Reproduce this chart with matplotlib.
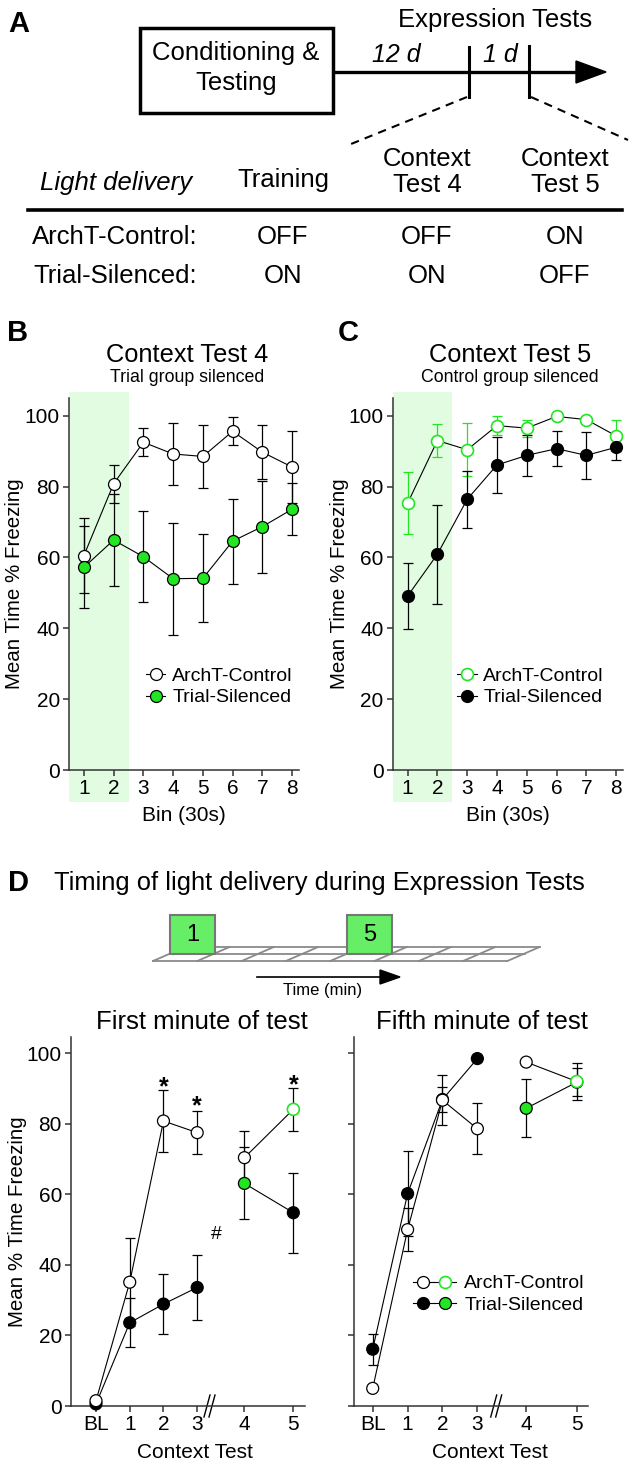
import numpy as np
import matplotlib
matplotlib.use('Agg')
import matplotlib.pyplot as plt
from matplotlib.lines import Line2D
from matplotlib.patches import Rectangle, Polygon
from matplotlib.legend_handler import HandlerTuple

plt.rcParams['font.family'] = ['Liberation Sans', 'DejaVu Sans']

W, H = 630, 1464
GREEN = '#22e622'
SHADE = '#e2fce2'
BOXGREEN = '#66ee66'
AXC = '#333333'

# ---- panel A table ----
groups = ['ArchT-Control:', 'Trial-Silenced:']
phases = ['Training', 'Context\nTest 4', 'Context\nTest 5']
light = [['OFF', 'OFF', 'ON'],
         ['ON', 'ON', 'OFF']]

# ---- panels B / C : 30 s bins ----
bins = [1, 2, 3, 4, 5, 6, 7, 8]
t4_ctrl = [60.5, 80.8, 92.5, 89.2, 88.5, 95.6, 89.7, 85.5]
t4_ctrl_err = [10.5, 5.3, 4.0, 8.7, 8.8, 3.9, 7.7, 10.1]
t4_sil = [57.2, 64.9, 60.2, 54.0, 54.1, 64.6, 68.7, 73.6]
t4_sil_err = [11.6, 12.9, 12.9, 15.8, 12.4, 12.0, 13.0, 7.4]

t5_ctrl = [75.3, 93.0, 90.4, 97.2, 96.5, 99.8, 98.9, 94.3]
t5_ctrl_err = [8.8, 4.6, 7.5, 2.7, 2.4, 0.6, 0.6, 4.4]
t5_sil = [49.1, 60.9, 76.4, 86.1, 88.8, 90.7, 88.8, 91.1]
t5_sil_err = [9.3, 14.0, 8.0, 8.0, 5.7, 5.0, 6.7, 3.5]

# ---- panel D ----
n_minutes = 8
lit_minutes = [1, 5]
tests = ['BL', '1', '2', '3', '4', '5']
test_pos = np.array([0, 1, 2, 3, 4.4, 5.85])

m1_ctrl = [1.5, 35.1, 80.8, 77.5, 70.4, 84.1]
m1_ctrl_err = [0, 12.4, 8.9, 6.1, 7.7, 6.1]
m1_sil = [0.6, 23.6, 28.9, 33.6, 63.1, 54.8]
m1_sil_err = [0, 7.0, 8.6, 9.1, 10.2, 11.3]
m1_stars = ['2', '3', '5']
m1_star_y = [92.4, 87.2, 93.2]

m5_ctrl = [5.0, 50.0, 86.7, 78.6, 97.5, 92.0]
m5_ctrl_err = [0, 6.0, 7.0, 7.2, 0, 5.2]
m5_sil = [16.1, 60.2, 86.9, 98.5, 84.4, 91.8]
m5_sil_err = [4.4, 12.0, 3.6, 0, 8.2, 4.0]

fig = plt.figure(figsize=(W / 100, H / 100), dpi=100)

# overlay in pixel coords for schematic parts
ov = fig.add_axes([0, 0, 1, 1])
ov.set_xlim(0, W)
ov.set_ylim(H, 0)
ov.axis('off')


def px_axes(l, t, r, b):
    return fig.add_axes([l / W, 1 - b / H, (r - l) / W, (b - t) / H])


def style(ax):
    for s in ['top', 'right']:
        ax.spines[s].set_visible(False)
    for s in ['left', 'bottom']:
        ax.spines[s].set_linewidth(1.1)
        ax.spines[s].set_color(AXC)
    ax.tick_params(length=4.5, width=1.1, color=AXC, labelsize=15, pad=2)
    ax.set_facecolor('none')


# ================= A =================
ov.text(19, 24, 'A', fontsize=21, fontweight='bold', ha='center', va='center')
ov.add_patch(Rectangle((140, 28), 193, 85, fill=False, lw=2.5, ec='k'))
ov.text(236, 53, 'Conditioning &', fontsize=18.5, ha='center', va='center')
ov.text(236, 83, 'Testing', fontsize=18.5, ha='center', va='center')
ov.plot([333, 580], [72, 72], color='k', lw=2.4, solid_capstyle='butt')
ov.add_patch(Polygon([(576, 61), (606, 72), (576, 83)], closed=True, color='k'))
ov.plot([469, 469], [47, 97], color='k', lw=2.2)
ov.plot([529, 529], [46, 97], color='k', lw=2.2)
ov.plot([467, 351], [97, 144], color='k', lw=1.5, ls=(0, (4, 3)))
ov.plot([531, 628], [97, 140], color='k', lw=1.5, ls=(0, (4, 3)))
ov.text(495, 20, 'Expression Tests', fontsize=18.5, ha='center', va='center')
ov.text(396, 55, '12 d', fontsize=18, style='italic', ha='center', va='center')
ov.text(500, 55, '1 d', fontsize=18, style='italic', ha='center', va='center')

col_x = [283, 427, 565]
row_y = [237, 276]
ov.text(116, 183, 'Light delivery', fontsize=18.5, style='italic', ha='center', va='center')
for x, name in zip(col_x, phases):
    ov.text(x, 180 if '\n' not in name else 172, name, fontsize=18.5, ha='center',
            va='center', linespacing=1.1)
ov.plot([28, 622], [210, 210], color='k', lw=2.6)
for y, g, states in zip(row_y, groups, light):
    ov.text(115, y, g, fontsize=18.5, ha='center', va='center')
    for x, st in zip(col_x, states):
        ov.text(x, y, st, fontsize=18.5, ha='center', va='center')

# ================= B / C =================
def bin_panel(ax, ctrl, ctrl_err, sil, sil_err, ctrl_col, sil_fill):
    style(ax)
    ax.axvspan(0.5, 2.5, ymin=-0.086, ymax=1.016, color=SHADE, lw=0,
               clip_on=False, zorder=0)
    ax.errorbar(bins, ctrl, yerr=ctrl_err, fmt='none', ecolor=ctrl_col,
                elinewidth=0.9, capsize=3.5, capthick=0.9, zorder=2, clip_on=False)
    ax.errorbar(bins, sil, yerr=sil_err, fmt='none', ecolor='k',
                elinewidth=0.9, capsize=3.5, capthick=0.9, zorder=2, clip_on=False)
    ax.plot(bins, ctrl, '-o', color='k', lw=0.8, ms=8.6, mfc='white', mec=ctrl_col,
            mew=1.2 if ctrl_col != 'k' else 0.9, zorder=3, clip_on=False,
            label='ArchT-Control')
    ax.plot(bins, sil, '-o', color='k', lw=0.8, ms=8.6, mfc=sil_fill, mec='k',
            mew=0.9, zorder=4, clip_on=False, label='Trial-Silenced')
    ax.set_xlim(0.5, 8.23)
    ax.set_ylim(0, 105)
    ax.set_xticks(bins)
    ax.set_yticks([0, 20, 40, 60, 80, 100])
    ax.set_xlabel('Bin (30s)', fontsize=15, va='center')
    ax.xaxis.set_label_coords(0.5, -0.121)
    ax.set_ylabel('Mean Time % Freezing', fontsize=14.8, va='center')


leg_kw = dict(loc='center left', frameon=False, fontsize=14, borderpad=0,
              borderaxespad=0, labelspacing=0.22)

axB = px_axes(69, 398, 299, 770)
bin_panel(axB, t4_ctrl, t4_ctrl_err, t4_sil, t4_sil_err, 'k', GREEN)
axB.yaxis.set_label_coords((15 - 69) / 230, 0.5)
axB.legend(bbox_to_anchor=(0.335, 0.224), handlelength=1.0, handletextpad=0.35,
           **leg_kw)

axC = px_axes(392.7, 398, 623, 770)
bin_panel(axC, t5_ctrl, t5_ctrl_err, t5_sil, t5_sil_err, GREEN, 'k')
axC.yaxis.set_label_coords((340 - 392.7) / 230, 0.5)
axC.legend(bbox_to_anchor=(0.28, 0.224), handlelength=1.0, handletextpad=0.35,
           **leg_kw)

ov.text(18, 333, 'B', fontsize=21, fontweight='bold', ha='center', va='center')
ov.text(348, 333, 'C', fontsize=21, fontweight='bold', ha='center', va='center')
ov.text(187, 355, 'Context Test 4', fontsize=18.3, ha='center', va='center')
ov.text(187, 378, 'Trial group silenced', fontsize=12.8, ha='center', va='center')
ov.text(510, 355, 'Context Test 5', fontsize=18.3, ha='center', va='center')
ov.text(510, 378, 'Control group silenced', fontsize=12.8, ha='center', va='center')

# ================= D schematic =================
ov.text(19, 883, 'D', fontsize=21, fontweight='bold', ha='center', va='center')
ov.text(54, 883, 'Timing of light delivery during Expression Tests', fontsize=18.4,
        ha='left', va='center')
x0, yb, ym, yt, k, cell = 153, 961, 953.5, 947, 2.3, 44.3
gcol = '#8a8a8a'
for y in (yb, ym, yt):
    xs = x0 + k * (yb - y)
    ov.plot([xs, xs + n_minutes * cell], [y, y], color=gcol, lw=1.3)
for i in range(n_minutes + 1):
    xb = x0 + i * cell
    ov.plot([xb, xb + k * (yb - yt)], [yb, yt], color=gcol, lw=1.3)
for m in lit_minutes:
    bx = x0 + k * (yb - ym) + (m - 1) * cell
    ov.add_patch(Rectangle((bx, 915), cell, ym - 915, fc=BOXGREEN, ec='#777777',
                           lw=1.5, zorder=3))
    ov.text(bx + cell / 2, 935, str(m), fontsize=17, ha='center', va='center', zorder=4)
ov.plot([257, 382], [977, 977], color='k', lw=1.2)
ov.add_patch(Polygon([(380, 970), (400, 977), (380, 984)], closed=True, color='k'))
ov.text(323, 990, 'Time (min)', fontsize=12, ha='center', va='center')

# ================= D plots =================
def test_panel(ax, ctrl, ctrl_err, sil, sil_err):
    style(ax)
    ax.errorbar(test_pos, ctrl, yerr=ctrl_err, fmt='none', ecolor='k',
                elinewidth=0.9, capsize=3.5, capthick=0.9, zorder=2, clip_on=False)
    ax.errorbar(test_pos, sil, yerr=sil_err, fmt='none', ecolor='k',
                elinewidth=0.9, capsize=3.5, capthick=0.9, zorder=2, clip_on=False)
    ctrl = np.array(ctrl)
    sil = np.array(sil)
    for seg in (slice(0, 4), slice(4, 6)):
        ax.plot(test_pos[seg], sil[seg], color='k', lw=0.8, zorder=3)
        ax.plot(test_pos[seg], ctrl[seg], color='k', lw=0.8, zorder=3)
    ax.scatter(test_pos, sil, s=74, facecolors=['k'] * 4 + [GREEN, 'k'],
               edgecolors='k', linewidths=0.9, zorder=4, clip_on=False)
    ax.scatter(test_pos, ctrl, s=74, facecolors='white',
               edgecolors=['k'] * 5 + [GREEN], linewidths=[0.9] * 5 + [1.2],
               zorder=5, clip_on=False)
    ax.set_ylim(0, 104.7)
    ax.set_yticks([0, 20, 40, 60, 80, 100])
    ax.set_xticks(test_pos)
    ax.set_xticklabels(tests)
    ax.set_xlabel('Context Test', fontsize=15, va='center')


axD1 = px_axes(71, 1036.7, 305, 1406)
test_panel(axD1, m1_ctrl, m1_ctrl_err, m1_sil, m1_sil_err)
axD1.set_xlim(-0.741, 6.196)
axD1.xaxis.set_label_coords(0.53, -0.127)
axD1.set_ylabel('Mean % Time Freezing', fontsize=14.8, va='center')
axD1.yaxis.set_label_coords((18 - 71) / 234, 0.5)
for t, y in zip(m1_stars, m1_star_y):
    axD1.annotate('*', (test_pos[tests.index(t)], y), xytext=(0, -10.5),
                  textcoords='offset points', ha='center', va='baseline',
                  fontsize=18, fontweight='bold')
axD1.annotate('#', (3.58, 49.4), xytext=(0, -5), textcoords='offset points',
              ha='center', va='baseline', fontsize=14)

axD2 = px_axes(354.3, 1036.7, 588.3, 1406)
test_panel(axD2, m5_ctrl, m5_ctrl_err, m5_sil, m5_sil_err)
axD2.set_xlim(-0.528, 6.18)
axD2.set_yticklabels([])
axD2.xaxis.set_label_coords(0.58, -0.127)

h_ctrl = (Line2D([], [], color='k', lw=0.8, marker='o', ms=8.6, mfc='white', mec='k', mew=0.9),
          Line2D([], [], color='k', lw=0.8, marker='o', ms=8.6, mfc='white', mec=GREEN, mew=1.2))
h_sil = (Line2D([], [], color='k', lw=0.8, marker='o', ms=8.6, mfc='k', mec='k', mew=0.9),
         Line2D([], [], color='k', lw=0.8, marker='o', ms=8.6, mfc=GREEN, mec='k', mew=0.9))
axD2.legend([h_ctrl, h_sil], ['ArchT-Control', 'Trial-Silenced'],
            handler_map={tuple: HandlerTuple(ndivide=None, pad=0)},
            bbox_to_anchor=(0.25, 0.302), handlelength=2.2, handletextpad=0.45,
            **leg_kw)

ov.text(202, 1022, 'First minute of test', fontsize=18.5, ha='center', va='center')
ov.text(482, 1022, 'Fifth minute of test', fontsize=18.5, ha='center', va='center')

# axis break marks
for bx in (210, 496.7):
    for dx in (-3, 2):
        ov.plot([bx + dx - 3, bx + dx + 3], [1417, 1395], color='k', lw=1.0)

fig.savefig('out.png', dpi=100)
